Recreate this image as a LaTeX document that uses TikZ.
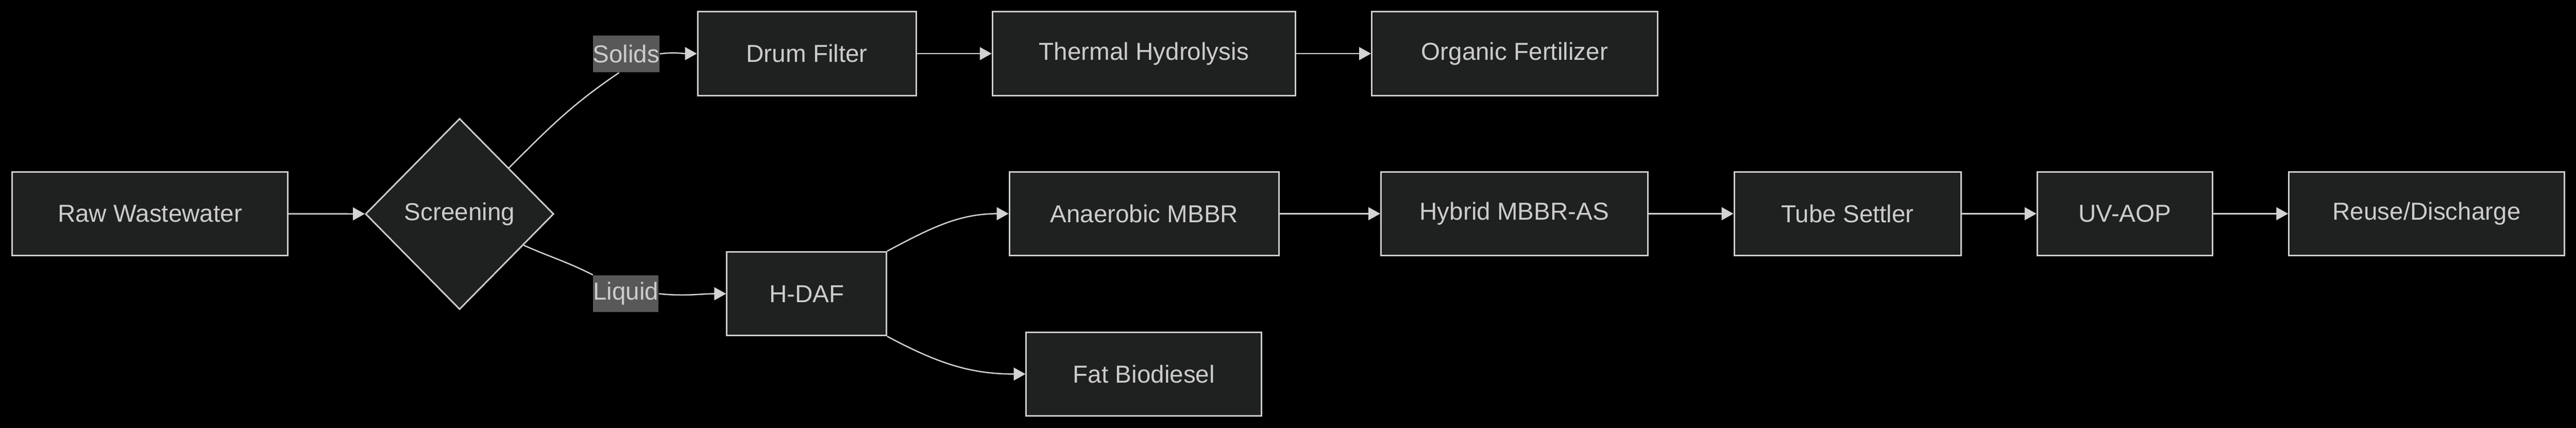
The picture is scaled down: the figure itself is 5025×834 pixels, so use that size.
\documentclass[tikz,border=0pt]{standalone}
\usepackage{fontspec}
\setmainfont{Liberation Sans}
\usepackage{tikz}
\usetikzlibrary{shapes.geometric,arrows.meta,positioning}

\definecolor{boxfill}{HTML}{1F2020}
\definecolor{boxline}{HTML}{CCCCCC}
\definecolor{boxtext}{HTML}{CCCCCC}
\definecolor{lblfill}{HTML}{585858}
\definecolor{edgeline}{HTML}{D3D3D3}

\begin{document}
\begin{tikzpicture}[
    x=0.01cm, y=-0.01cm,
    font=\fontsize{13.6}{16}\selectfont,
    box/.style={draw=boxline, fill=boxfill, text=boxtext, line width=0.03cm, minimum height=1.63cm, inner sep=0pt},
    lbl/.style={fill=lblfill, text=boxtext, inner sep=0pt, minimum height=0.72cm},
    flow/.style={draw=edgeline, line width=0.025cm, -{Triangle[length=0.23cm, width=0.25cm]}}
]
    % Background
    \fill [black] (0,0) rectangle (5025,834);
    \useasboundingbox (0,0) rectangle (5025,834);

    % Inlet and screening
    \node [box, minimum width=5.37cm] (raw) at (292.5,416.5) {Raw Wastewater};
    \node [box, diamond, minimum width=3.67cm, minimum height=3.72cm] (screen) at (896.5,417) {Screening};

    % Solids line
    \foreach \name/\txt/\x/\w in {drum/Drum Filter/1574/4.26, thermal/Thermal Hydrolysis/2231.5/5.91, organic/Organic Fertilizer/2954.5/5.57} {
        \node [box, minimum width=\w cm] (\name) at (\x,104.5) {\txt};
    }

    % Liquid line
    \node [box, minimum width=3.11cm] (hdaf) at (1573.5,572.5) {H-DAF};
    \foreach \name/\txt/\x/\w in {anaerobic/Anaerobic MBBR/2232/5.26, hybrid/Hybrid MBBR-AS/2954/5.20, tube/Tube Settler/3604/4.42, uv/UV-AOP/4145/3.42, reuse/{Reuse/Discharge}/4733.5/5.37} {
        \node [box, minimum width=\w cm] (\name) at (\x,416.5) {\txt};
    }
    \node [box, minimum width=4.59cm] (fat) at (2231.5,729) {Fat Biodiesel};

    % Edge labels
    \node [lbl] (solids) at (1221.5,105) {Solids};
    \node [lbl] (liquid) at (1221,572.5) {Liquid};

    % Connectors
    \draw [flow] (raw) -- (screen);
    \draw [draw=edgeline, line width=0.025cm] (screen.43) to[out=45, in=214] ([xshift=-0.14cm]solids.south);
    \draw [flow] (solids.east) to[out=8, in=180] (drum.west);
    \draw [draw=edgeline, line width=0.025cm] (screen.-26) to[out=-24, in=153] (liquid.north west);
    \draw [flow] (liquid.east) to[out=-6, in=180] (hdaf.west);
    \draw [flow] (hdaf.north east) to[out=28, in=180] (anaerobic.west);
    \draw [flow] (hdaf.south east) to[out=-28, in=180] (fat.west);
    \foreach \a/\b in {drum/thermal, thermal/organic, anaerobic/hybrid, hybrid/tube, tube/uv, uv/reuse} {
        \draw [flow] (\a) -- (\b);
    }
\end{tikzpicture}
\end{document}
